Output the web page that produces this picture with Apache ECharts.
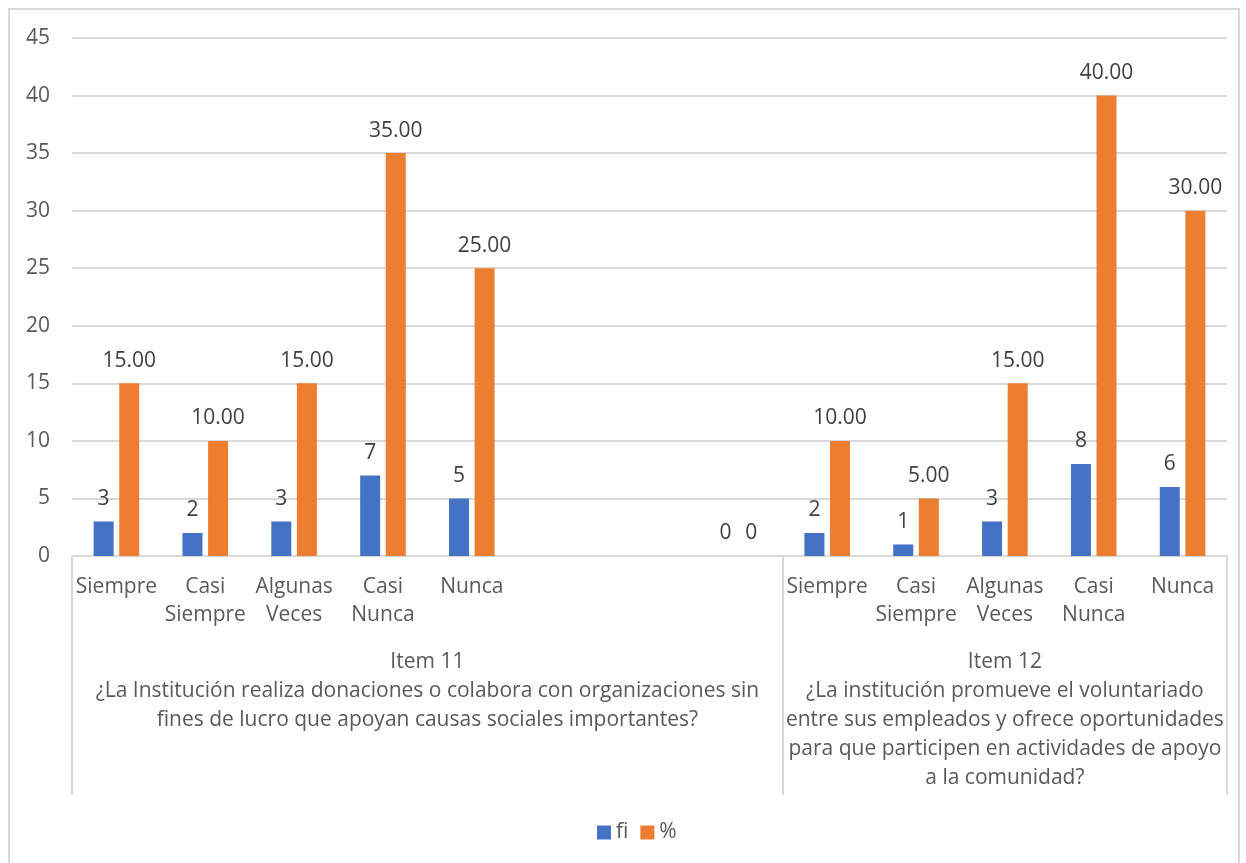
<!DOCTYPE html>
<html>
<head>
<meta charset="utf-8">
<script src="https://cdn.jsdelivr.net/npm/echarts@6/dist/echarts.min.js"></script>
<style>
  html, body { margin: 0; padding: 0; background: #fff; }
  #frame { position: absolute; left: 8px; top: 8px; width: 1232px; height: 870px; border: 2px solid #d9d9d9; box-sizing: border-box; }
  #chart { position: absolute; left: 0; top: 0; width: 1246px; height: 863px; }
</style>
</head>
<body>
<div id="frame"></div>
<div id="chart"></div>
<script>
const categories = ['Siempre', 'Casi\nSiempre', 'Algunas\nVeces', 'Casi\nNunca', 'Nunca', '', '', '',
                    'Siempre', 'Casi\nSiempre', 'Algunas\nVeces', 'Casi\nNunca', 'Nunca'];
const fiValues  = [3, 2, 3, 7, 5, null, null, 0, 2, 1, 3, 8, 6];
const pctValues = [15, 10, 15, 35, 25, null, null, 0, 10, 5, 15, 40, 30];
const groupLabels = [
  'Item 11\n¿La Institución realiza donaciones o colabora con organizaciones sin\nfines de lucro que apoyan causas sociales importantes?',
  'Item 12\n¿La institución promueve el voluntariado\nentre sus empleados y ofrece oportunidades\npara que participen en actividades de apoyo\na la comunidad?'
];
const groupSizes = [8, 5];
const yTicks = { min: 0, max: 45, interval: 5 };

const FONT = 'Open Sans';
const FS = 21;
const groupBounds = [0];
groupSizes.forEach(s => groupBounds.push(groupBounds[groupBounds.length - 1] + s));
const groupCenters = groupSizes.map((s, i) => groupBounds[i] + s / 2);

const chart = echarts.init(document.getElementById('chart'));
chart.setOption({
  animation: false,
  textStyle: { fontFamily: FONT },
  grid: { left: 72, right: 19, top: 38, bottom: 307, containLabel: false },
  legend: {
    bottom: 15, left: 592,
    itemWidth: 14, itemHeight: 14, itemGap: 12, icon: 'rect',
    textStyle: { fontFamily: FONT, fontSize: FS, color: '#595959', padding: [0, 0, 0, 0] },
    data: ['fi', '%']
  },
  xAxis: [
    {
      type: 'category', data: categories, position: 'bottom',
      axisLine: { show: true, lineStyle: { color: '#d9d9d9', width: 2 } },
      axisTick: { show: false },
      axisLabel: { interval: 0, margin: 17, fontFamily: FONT, fontSize: FS, color: '#595959', lineHeight: 28 },
      splitLine: { show: false }
    },
    {
      type: 'value', position: 'bottom', min: 0, max: groupBounds[groupBounds.length - 1],
      axisLine: { show: false },
      axisTick: { show: true, customValues: groupBounds, length: 239, lineStyle: { color: '#d9d9d9', width: 2 } },
      axisLabel: {
        show: true, customValues: groupCenters, margin: 92,
        fontFamily: FONT, fontSize: FS, color: '#595959', lineHeight: 29, align: 'center',
        formatter: function (v) {
          const i = groupCenters.indexOf(v);
          return i >= 0 ? groupLabels[i] : '';
        }
      },
      splitLine: { show: false }
    }
  ],
  yAxis: {
    type: 'value', min: yTicks.min, max: yTicks.max, interval: yTicks.interval,
    axisLine: { show: false }, axisTick: { show: false },
    axisLabel: { margin: 22, fontFamily: FONT, fontSize: FS, color: '#595959' },
    splitLine: { lineStyle: { color: '#d9d9d9', width: 2 } }
  },
  series: [
    {
      name: 'fi', type: 'bar', data: fiValues, xAxisIndex: 0,
      barWidth: 20, barGap: '28%',
      itemStyle: { color: '#4472C4' },
      label: { show: true, position: 'top', distance: 12, fontFamily: FONT, fontSize: FS, color: '#404040' }
    },
    {
      name: '%', type: 'bar', data: pctValues, xAxisIndex: 0,
      barWidth: 20, barGap: '28%',
      itemStyle: { color: '#ED7D31' },
      label: {
        show: true, position: 'top', distance: 12, fontFamily: FONT, fontSize: FS, color: '#404040',
        formatter: p => (p.value === 0 ? '0' : Number(p.value).toFixed(2))
      }
    }
  ]
});
</script>
</body>
</html>
